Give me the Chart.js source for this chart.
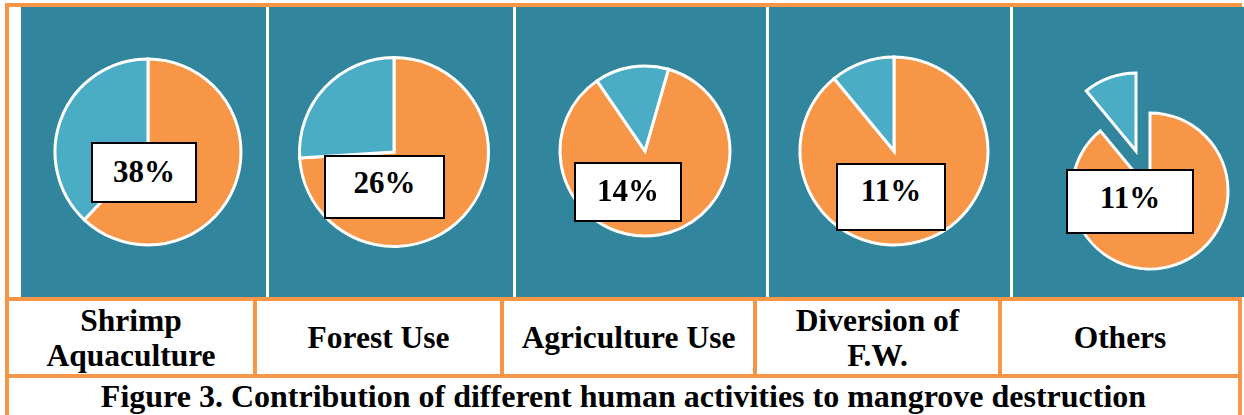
<!DOCTYPE html>
<html>
<head>
<meta charset="utf-8">
<title>Figure 3</title>
<script src="https://cdn.jsdelivr.net/npm/chart.js@4.4.1/dist/chart.umd.min.js"></script>
<style>
  html, body { margin: 0; padding: 0; background: #fff; }
  #fig {
    position: relative; width: 1244px; height: 415px; overflow: hidden;
    font-family: "Liberation Serif", "Times New Roman", serif; font-weight: bold; color: #000;
  }
  .line  { position: absolute; background: #F79646; }
  .panel { position: absolute; top: 7px; height: 290px; background: #31859C; }
  .pie   { position: absolute; }
  .tag   { position: absolute; box-sizing: border-box; border: 2px solid #000; background: #fff; }
  .tag span { position: absolute; left: 0; right: 0; text-align: center; font-size: 31px; line-height: 31px; }
  .cell  {
    position: absolute; top: 301px; height: 73px;
    display: flex; align-items: center; justify-content: center; text-align: center;
    font-size: 31.5px; line-height: 35px;
  }
  #caption {
    position: absolute; left: 9px; width: 1229px; top: 378px; height: 37px;
    text-align: center; font-size: 32px; line-height: 37px; white-space: nowrap;
  }
</style>
</head>
<body>
<div id="fig">
  <div id="caption">Figure 3. Contribution of different human activities to mangrove destruction</div>
</div>
<script>
// ---- data ----
const categories = [['Shrimp', 'Aquaculture'], ['Forest Use'], ['Agriculture Use'], ['Diversion of', 'F.W.'], ['Others']];
const share = [38, 26, 14, 11, 11];   // contribution, the blue slice
const rest  = [62, 74, 86, 89, 89];   // remainder of each pie

// ---- colours ----
const ORANGE = '#F79646';
const BLUE   = '#4BACC6';
const CLEAR  = 'rgba(0,0,0,0)';

// ---- layout ----
const panelX = [[21, 266], [269, 513], [516, 766], [769, 1010], [1013, 1244]];
const cellX  = [[9, 253], [257, 500], [504, 753], [757, 998], [1002, 1238]];
const pies = [
  { cx: 148, cy: 152, r: 93,   rotation: 0 },
  { cx: 394, cy: 152, r: 94.5, rotation: 0 },
  { cx: 645, cy: 151, r: 85,   rotation: 16 },
  { cx: 894, cy: 151, r: 94,   rotation: 0 },
  { cx: 1150, cy: 191, r: 78,  rotation: 0, explode: 42 }
];
const tags = [
  { x: 91,   y: 142, w: 106, h: 61, base: 182 },
  { x: 324,  y: 155, w: 121, h: 64, base: 193 },
  { x: 574,  y: 162, w: 108, h: 60, base: 201 },
  { x: 836,  y: 163, w: 110, h: 68, base: 201 },
  { x: 1066, y: 169, w: 128, h: 65, base: 208 }
];

const fig = document.getElementById('fig');

function box(cls, x, y, w, h) {
  const d = document.createElement('div');
  d.className = cls;
  Object.assign(d.style, { left: x + 'px', top: y + 'px', width: w + 'px', height: h + 'px' });
  fig.appendChild(d);
  return d;
}

// frame lines
box('line', 5, 3, 1237, 4);
box('line', 5, 3, 4, 412);
box('line', 1238, 3, 4, 412);
box('line', 5, 297, 1237, 4);
box('line', 5, 374, 1237, 4);
[253, 500, 753, 998].forEach(x => box('line', x, 297, 4, 81));

// teal panels
panelX.forEach(([a, b]) => box('panel', a, 7, b - a, 290));

function makeCanvas(p, dx, dy) {
  const size = Math.ceil(p.r + 8) * 2;
  const cv = document.createElement('canvas');
  cv.className = 'pie';
  cv.width = size;
  cv.height = size;
  cv.style.left = Math.round(p.cx - size / 2 + dx) + 'px';
  cv.style.top  = Math.round(p.cy - size / 2 + dy) + 'px';
  fig.appendChild(cv);
  return cv;
}

function drawPie(cv, p, values, colors, widths) {
  new Chart(cv, {
    type: 'pie',
    data: {
      datasets: [{
        data: values,
        backgroundColor: colors,
        borderColor: '#fff',
        borderWidth: widths,
        borderJoinStyle: 'miter'
      }]
    },
    options: {
      responsive: false,
      animation: false,
      events: [],
      radius: p.r,
      rotation: p.rotation,
      plugins: { legend: { display: false }, tooltip: { enabled: false } }
    }
  });
}

pies.forEach((p, i) => {
  const values = [rest[i], share[i]];
  if (!p.explode) {
    drawPie(makeCanvas(p, 0, 0), p, values, [ORANGE, BLUE], 3);
    return;
  }
  // exploded slice: same pie drawn twice, second one pushed out along the slice's mid angle
  const mid = (p.rotation + 360 * (rest[i] + share[i] / 2) / 100) * Math.PI / 180;
  const dx = Math.sin(mid) * p.explode;
  const dy = -Math.cos(mid) * p.explode;
  drawPie(makeCanvas(p, 0, 0), p, values, [ORANGE, CLEAR], [3, 0]);
  drawPie(makeCanvas(p, dx, dy), p, values, [CLEAR, BLUE], [0, 3]);
});

// value boxes
tags.forEach((t, i) => {
  const d = box('tag', t.x, t.y, t.w, t.h);
  const s = document.createElement('span');
  s.style.top = (t.base - t.y - 2 - 26) + 'px';
  s.textContent = share[i] + '%';
  d.appendChild(s);
});

// category cells
cellX.forEach(([a, b], i) => {
  const d = box('cell', a, 301, b - a, 73);
  d.innerHTML = categories[i].join('<br>');
});
</script>
</body>
</html>
